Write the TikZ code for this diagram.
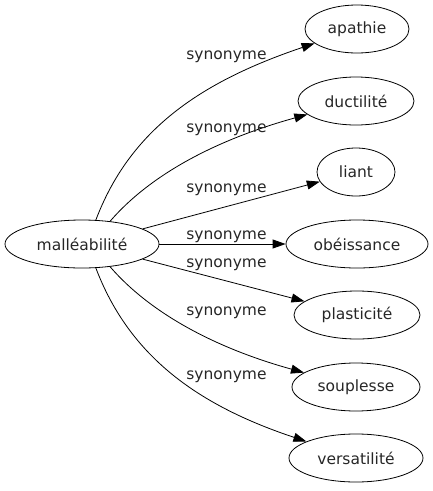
\documentclass[tikz,border=0pt]{standalone}
\usepackage{fontspec}
\setmainfont{DejaVu Sans}
\usetikzlibrary{shapes.geometric,arrows.meta}
\begin{document}
\begin{tikzpicture}[x=1pt,y=-1pt,
  every node/.style={font=\fontsize{15.5}{18}\selectfont, text=black!85},
  term/.style={draw=black, line width=0.8pt, ellipse, inner sep=0pt, minimum height=48pt},
  lbl/.style={anchor=base, inner sep=0pt},
  syn/.style={draw=black, line width=0.8pt, -{Triangle[length=13pt,width=9pt]}}]
\useasboundingbox (0,0) rectangle (433,491);
\node[term, minimum width=154pt] (m) at (82,244) {malléabilité};
\node[term, minimum width=104pt] (apathie) at (357,29) {apathie};
\node[term, minimum width=116pt] (ductilite) at (356,101) {ductilité};
\node[term, minimum width=78pt] (liant) at (356,172) {liant};
\node[term, minimum width=142pt] (obeissance) at (357,244) {obéissance};
\node[term, minimum width=126pt] (plasticite) at (357,315) {plasticité};
\node[term, minimum width=128pt] (souplesse) at (356,387) {souplesse};
\node[term, minimum width=134pt] (versatilite) at (356,458) {versatilité};
\draw[syn] (m.60) .. controls (130,130) and (200,82) .. (apathie);
\draw[syn] (m.39) .. controls (150,175) and (215,140) .. (ductilite);
\draw[syn] (m.14) -- (liant);
\draw[syn] (m.0) -- (obeissance);
\draw[syn] (m.-14) -- (plasticite);
\draw[syn] (m.-39) .. controls (150,313) and (215,348) .. (souplesse);
\draw[syn] (m.-60) .. controls (130,358) and (200,406) .. (versatilite);
\node[lbl] (l1) at (226.5,59) {synonyme};
\node[lbl] (l2) at (226.5,132) {synonyme};
\node[lbl] (l3) at (226.5,192) {synonyme};
\node[lbl] (l4) at (226.5,239) {synonyme};
\node[lbl] (l5) at (226.5,267) {synonyme};
\node[lbl] (l6) at (226.5,315) {synonyme};
\node[lbl] (l7) at (226.5,379) {synonyme};
\end{tikzpicture}
\end{document}
